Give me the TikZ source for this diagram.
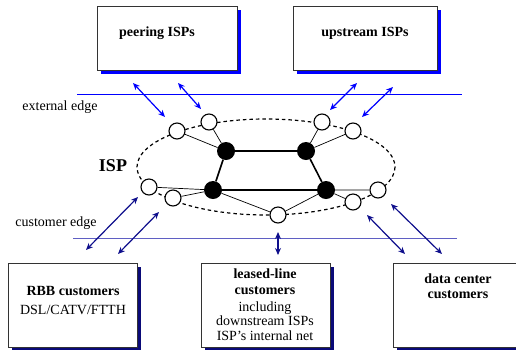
\documentclass[tikz,border=0pt]{standalone}
\usepackage{fontspec}
\setmainfont{Liberation Serif}
\usetikzlibrary{arrows.meta}
\definecolor{shadeblue}{RGB}{0,0,255}
\definecolor{navyshade}{RGB}{10,10,120}
\definecolor{custline}{RGB}{95,95,195}
\definecolor{navyarrow}{RGB}{15,15,140}
\tikzset{
  boxnode/.style={draw=black!80, line width=0.9pt, fill=white, inner sep=0pt},
  wnode/.style={circle, draw=black, fill=white, line width=1.1pt, minimum size=16pt, inner sep=0pt},
  bnode/.style={circle, fill=black, minimum size=18pt, inner sep=0pt},
  core/.style={line width=1.6pt},
  spoke/.style={line width=0.7pt},
  toparrow/.style={{Stealth[length=7pt,width=6pt]}-{Stealth[length=7pt,width=6pt]}, line width=1.2pt, shadeblue},
  botarrow/.style={{Stealth[length=7pt,width=6pt]}-{Stealth[length=7pt,width=6pt]}, line width=1.2pt, navyarrow},
  lbl/.style={font=\fontsize{14}{15}\selectfont, inner sep=0pt},
  blbl/.style={font=\fontsize{14}{15}\selectfont\bfseries, inner sep=0pt, align=center},
}
\begin{document}
\begin{tikzpicture}[x=1pt,y=-1pt]
\useasboundingbox (0,0) rectangle (516,349);
% top boxes with shadows
\fill[shadeblue] (101,10) rectangle (241,74);
\node[boxnode, minimum width=140pt, minimum height=64pt] (peer) at (167,38) {};
\node[blbl] (peertxt) at (157,33) {peering ISPs};
\fill[shadeblue] (297,10) rectangle (441,74);
\node[boxnode, minimum width=144pt, minimum height=64pt] (up) at (365,38) {};
\node[blbl] (uptxt) at (365,33) {upstream ISPs};
% edges lines
\coordinate (ee1) at (77,94);
\coordinate (ee2) at (462,94);
\draw[shadeblue, line width=0.8pt] (ee1) -- (ee2);
\node[lbl] (eetxt) at (60,107) {external edge};
\coordinate (ce1) at (73,238);
\coordinate (ce2) at (457,238);
\draw[custline, line width=1pt] (ce1) -- (ce2);
\node[lbl] (cetxt) at (56,223) {customer edge};
% ISP ellipse
\draw[dashed, dash pattern=on 3.5pt off 3pt, line width=1.2pt] (266,167) ellipse [x radius=129, y radius=48];
\node[font=\fontsize{18}{19}\selectfont\bfseries, inner sep=0pt] (isp) at (113,166) {ISP};
% core nodes
\node[bnode] (b1) at (226,151) {};
\node[bnode] (b2) at (306,151) {};
\node[bnode] (b3) at (213,190) {};
\node[bnode] (b4) at (326,190) {};
% edge nodes
\node[wnode] (n1) at (177,131) {};
\node[wnode] (n2) at (209,122) {};
\node[wnode] (n3) at (322,122) {};
\node[wnode] (n4) at (353,131) {};
\node[wnode] (n5) at (149,187) {};
\node[wnode] (n6) at (173,198) {};
\node[wnode] (n7) at (278,215) {};
\node[wnode] (n8) at (353,202) {};
\node[wnode] (n9) at (378,190) {};
\draw[core] (b1) -- (b2) (b1) -- (b3) (b2) -- (b4) (b3) -- (b4);
\draw[spoke] (n1) -- (b1) (n2) -- (b1) (n3) -- (b2) (n4) -- (b2)
  (n5) -- (b3) (n6) -- (b3) (n7) -- (b3) (n7) -- (b4) (n8) -- (b4) (n9) -- (b4);
% top arrows
\coordinate (ta1) at (133,83); \coordinate (ta1e) at (165,117);
\coordinate (ta2) at (178,83); \coordinate (ta2e) at (201,109);
\coordinate (ta3) at (357,83); \coordinate (ta3e) at (330,110);
\coordinate (ta4) at (393,87); \coordinate (ta4e) at (362,117);
\draw[toparrow] (ta1) -- (ta1e);
\draw[toparrow] (ta2) -- (ta2e);
\draw[toparrow] (ta3) -- (ta3e);
\draw[toparrow] (ta4) -- (ta4e);
% bottom arrows
\coordinate (ba1) at (138,197); \coordinate (ba1e) at (86,250);
\coordinate (ba2) at (159,212); \coordinate (ba2e) at (118,254);
\coordinate (ba3) at (278,232); \coordinate (ba3e) at (278,255);
\coordinate (ba4) at (367,215); \coordinate (ba4e) at (405,254);
\coordinate (ba5) at (391,204); \coordinate (ba5e) at (442,254);
\draw[botarrow] (ba1) -- (ba1e);
\draw[botarrow] (ba2) -- (ba2e);
\draw[botarrow] (ba3) -- (ba3e);
\draw[botarrow] (ba4) -- (ba4e);
\draw[botarrow] (ba5) -- (ba5e);
% bottom boxes
\fill[navyshade] (12,267) rectangle (141,351);
\node[boxnode, minimum width=129pt, minimum height=84pt] (rbb) at (72.5,305) {};
\node[blbl] (rbbtxt) at (73,291) {RBB customers};
\node[lbl] (rbbsub) at (73,310) {DSL/CATV/FTTH};
\fill[navyshade] (205,267) rectangle (334,351);
\node[boxnode, minimum width=129pt, minimum height=84pt] (ll) at (265.5,305) {};
\node[blbl, font=\fontsize{14}{16}\selectfont\bfseries] (lltxt) at (265,282) {leased-line\\customers};
\node[lbl, align=center, font=\fontsize{14}{14.5}\selectfont] (llsub) at (265,321) {including\\downstream ISPs\\ISP’s internal net};
\fill[navyshade] (397,267) rectangle (530,351);
\node[boxnode, minimum width=133pt, minimum height=84pt] (dc) at (459.5,305) {};
\node[blbl, font=\fontsize{14}{14.5}\selectfont\bfseries] (dctxt) at (458,286) {data center\\customers};
\end{tikzpicture}
\end{document}
